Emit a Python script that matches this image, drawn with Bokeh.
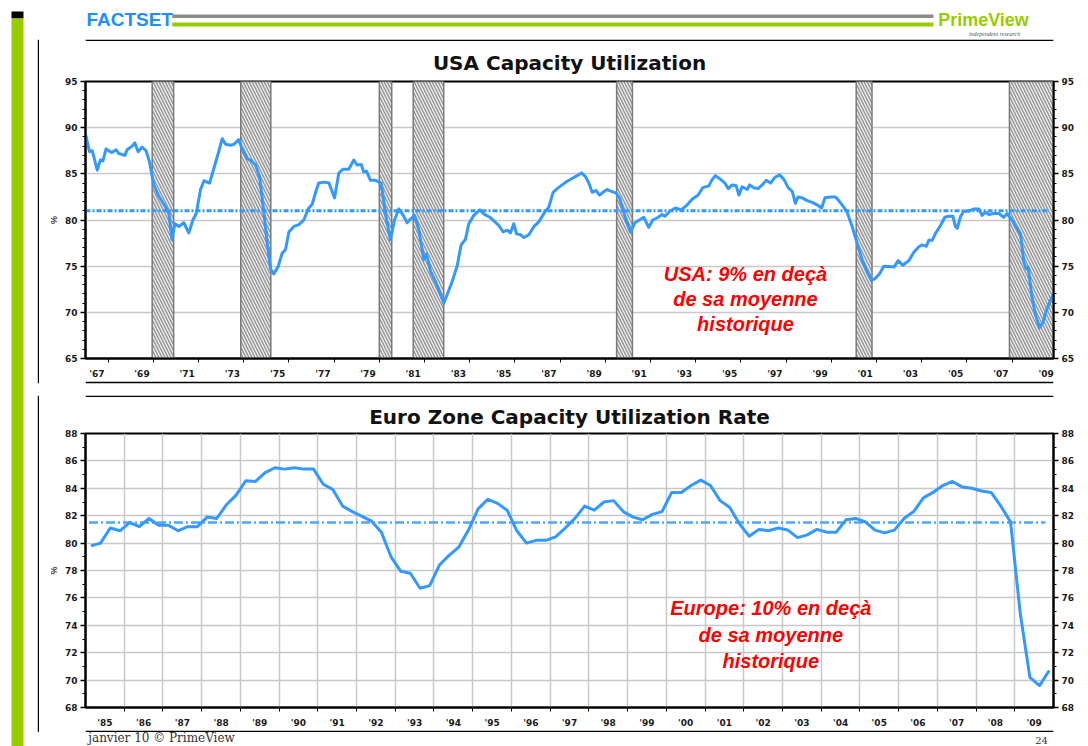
import numpy as np
from bokeh.plotting import figure
from bokeh.models import Range1d, FixedTicker, LinearAxis, Label
from bokeh.layouts import row, column
from bokeh.embed import file_html
from bokeh.resources import INLINE

# ---------------- DATA ----------------
usa_years = [
    1967.00, 1967.18, 1967.30, 1967.52, 1967.66, 1967.77, 1967.91, 1968.15, 1968.36, 1968.47,
    1968.74, 1968.84, 1969.06, 1969.18, 1969.33, 1969.50, 1969.68, 1969.83, 1970.02, 1970.24,
    1970.54, 1970.69, 1970.83, 1970.95, 1971.13, 1971.35, 1971.57, 1971.75, 1971.90, 1972.09,
    1972.24, 1972.49, 1972.68, 1972.87, 1973.05, 1973.20, 1973.42, 1973.56, 1973.78, 1973.93,
    1974.15, 1974.35, 1974.52, 1974.70, 1974.85, 1975.04, 1975.19, 1975.33, 1975.53, 1975.70,
    1975.85, 1976.00, 1976.22, 1976.44, 1976.66, 1976.85, 1977.03, 1977.18, 1977.32, 1977.55,
    1977.77, 1978.02, 1978.21, 1978.40, 1978.65, 1978.87, 1979.02, 1979.20, 1979.31, 1979.43,
    1979.61, 1979.83, 1980.08, 1980.27, 1980.49, 1980.67, 1980.86, 1981.06, 1981.23, 1981.38,
    1981.56, 1981.75, 1981.97, 1982.09, 1982.26, 1982.49, 1982.71, 1982.85, 1983.00, 1983.22,
    1983.44, 1983.62, 1983.81, 1983.96, 1984.18, 1984.45, 1984.65, 1984.89, 1985.07, 1985.29,
    1985.48, 1985.66, 1985.80, 1985.95, 1986.07, 1986.25, 1986.40, 1986.62, 1986.84, 1987.06,
    1987.28, 1987.50, 1987.69, 1987.87, 1988.09, 1988.31, 1988.53, 1988.75, 1988.95, 1989.12,
    1989.27, 1989.42, 1989.59, 1989.74, 1989.89, 1990.08, 1990.27, 1990.48, 1990.63, 1990.82,
    1990.97, 1991.11, 1991.31, 1991.51, 1991.70, 1991.92, 1992.10, 1992.34, 1992.51, 1992.63,
    1992.88, 1993.10, 1993.37, 1993.62, 1993.84, 1994.11, 1994.31, 1994.58, 1994.73, 1994.87,
    1995.10, 1995.29, 1995.44, 1995.61, 1995.79, 1995.91, 1996.05, 1996.28, 1996.38, 1996.57,
    1996.76, 1996.94, 1997.12, 1997.31, 1997.50, 1997.71, 1997.90, 1998.09, 1998.27, 1998.41,
    1998.53, 1998.71, 1998.93, 1999.15, 1999.37, 1999.57, 1999.72, 1999.96, 2000.18, 2000.33,
    2000.55, 2000.70, 2000.92, 2001.14, 2001.36, 2001.59, 2001.78, 2001.95, 2002.13, 2002.32,
    2002.54, 2002.77, 2002.96, 2003.16, 2003.43, 2003.65, 2003.87, 2004.02, 2004.20, 2004.31,
    2004.46, 2004.61, 2004.83, 2005.02, 2005.20, 2005.38, 2005.49, 2005.57, 2005.72, 2005.86,
    2006.08, 2006.31, 2006.53, 2006.67, 2006.82, 2006.97, 2007.19, 2007.41, 2007.63, 2007.78,
    2008.00, 2008.15, 2008.37, 2008.52, 2008.62, 2008.71, 2008.86, 2009.03, 2009.21, 2009.36,
    2009.55, 2009.70, 2009.82,
]
usa_values = [
    89.3, 87.4, 87.5, 85.4, 86.5, 86.4, 87.7, 87.3, 87.6, 87.2,
    87.0, 87.6, 88.0, 88.35, 87.4, 87.9, 87.5, 86.3, 83.8, 82.6,
    81.4, 80.7, 77.85, 79.6, 79.3, 79.7, 78.6, 80.0, 80.7, 83.3,
    84.25, 84.0, 85.6, 87.2, 88.8, 88.2, 88.1, 88.2, 88.7, 87.7,
    86.65, 86.4, 85.95, 84.7, 81.7, 77.5, 74.7, 74.15, 75.0, 76.4,
    76.8, 78.7, 79.3, 79.5, 80.0, 81.2, 81.7, 83.0, 84.0, 84.1,
    84.0, 82.4, 85.1, 85.5, 85.5, 86.5, 85.95, 86.0, 85.2, 85.3,
    84.3, 84.3, 84.0, 80.7, 77.85, 80.0, 81.2, 80.5, 79.7, 80.1,
    80.5, 78.9, 75.7, 76.3, 74.5, 73.3, 71.9, 71.0, 71.9, 73.3,
    75.0, 77.3, 77.9, 79.6, 80.5, 81.1, 80.6, 80.3, 79.9, 79.4,
    78.7, 78.9, 78.6, 79.6, 78.5, 78.4, 78.1, 78.4, 79.3, 79.8,
    80.7, 81.4, 83.0, 83.4, 83.8, 84.2, 84.5, 84.8, 85.1, 84.7,
    84.0, 83.0, 83.2, 82.7, 83.0, 83.3, 83.1, 82.9, 82.4, 80.8,
    79.6, 78.7, 79.7, 80.0, 80.3, 79.2, 80.0, 80.3, 80.6, 80.4,
    81.0, 81.3, 81.1, 81.65, 82.25, 82.7, 83.5, 83.7, 84.4, 84.8,
    84.4, 84.0, 83.4, 83.8, 83.7, 82.7, 83.6, 83.3, 83.8, 83.5,
    83.4, 83.8, 84.3, 84.0, 84.6, 84.9, 84.4, 83.5, 83.1, 81.8,
    82.5, 82.4, 82.1, 81.9, 81.65, 81.3, 82.4, 82.5, 82.5, 82.1,
    81.4, 80.85, 79.3, 77.5, 75.7, 74.3, 73.45, 73.7, 74.15, 75.0,
    74.96, 74.9, 75.6, 75.1, 75.6, 76.5, 77.1, 77.3, 77.15, 77.8,
    77.8, 78.55, 79.4, 80.3, 80.4, 80.4, 79.3, 79.1, 80.4, 80.95,
    80.95, 81.2, 81.2, 80.5, 80.85, 80.6, 80.7, 80.7, 80.3, 80.7,
    79.95, 79.3, 78.5, 75.4, 74.7, 74.9, 71.9, 69.75, 68.35, 68.9,
    70.45, 71.3, 72.0,
]
usa_mean = 81.0
usa_rec_start = [1969.95, 1973.87, 1980.00, 1981.50, 1990.50, 2001.10, 2007.88]
usa_rec_end = [1970.90, 1975.20, 1980.55, 1982.85, 1991.20, 2001.80, 2009.83]
usa_label_years = list(range(1967, 2010, 2))
usa_y_ticks = [65, 70, 75, 80, 85, 90, 95]

euro_first_year = 1985
euro_values = [
    79.8, 80.0, 81.1, 80.9,   # 1985
    81.5, 81.2, 81.8, 81.3,   # 1986
    81.3, 80.9, 81.2, 81.2,   # 1987
    81.9, 81.8, 82.8, 83.5,   # 1988
    84.55, 84.5, 85.15, 85.5, # 1989
    85.4, 85.5, 85.4, 85.4,   # 1990
    84.3, 83.9, 82.7, 82.3,   # 1991
    81.95, 81.6, 80.8, 79.0,  # 1992
    77.95, 77.8, 76.7, 76.9,  # 1993
    78.4, 79.1, 79.7, 80.95,  # 1994
    82.5, 83.2, 82.9, 82.4,   # 1995
    80.9, 80.0, 80.2, 80.2,   # 1996
    80.45, 81.1, 81.8, 82.7,  # 1997
    82.4, 83.0, 83.1, 82.3,   # 1998
    81.9, 81.7, 82.1, 82.3,   # 1999
    83.7, 83.7, 84.2, 84.6,   # 2000
    84.2, 83.1, 82.6, 81.4,   # 2001
    80.5, 81.0, 80.9, 81.1,   # 2002
    80.95, 80.4, 80.6, 81.0,  # 2003
    80.8, 80.8, 81.7, 81.8,   # 2004
    81.55, 80.95, 80.75, 80.95,  # 2005
    81.8, 82.3, 83.3, 83.7,   # 2006
    84.2, 84.5, 84.1, 84.0,   # 2007
    83.8, 83.7, 82.7, 81.55,  # 2008
    74.9, 70.2, 69.6, 70.7,   # 2009
]
euro_mean = 81.5
euro_label_years = list(range(1985, 2010))
euro_y_ticks = [68, 70, 72, 74, 76, 78, 80, 82, 84, 86, 88]

# ---------------- STYLE ----------------
BLUE = "#3399ff"
GREEN = "#99cc00"
GRID = "#c8c8c8"
PAGE_W, PAGE_H = 1088, 746
LEFT_W = 39
W = PAGE_W - LEFT_W
TICK_FONT = "DejaVu Sans"


def style_axis(ax, ticker):
    ax.ticker = ticker
    ax.axis_line_color = "black"
    ax.axis_line_width = 2
    ax.major_tick_line_color = "black"
    ax.major_tick_line_width = 1.5
    ax.major_tick_out = 5
    ax.major_tick_in = 0
    ax.minor_tick_line_color = "black"
    ax.minor_tick_line_width = 1
    ax.minor_tick_out = 3
    ax.minor_tick_in = 0
    ax.major_label_standoff = 3
    ax.major_label_text_font = TICK_FONT
    ax.major_label_text_font_style = "bold"
    ax.major_label_text_font_size = "9px"
    ax.major_label_text_color = "#1a1a1a"


def style_xaxis(ax, label_years, boundaries):
    ax.ticker = FixedTicker(ticks=[y + 0.5 for y in label_years], minor_ticks=boundaries)
    ax.major_label_overrides = {y + 0.5: "'" + str(y)[2:] for y in label_years}
    ax.axis_line_color = "black"
    ax.axis_line_width = 2
    ax.major_tick_line_color = None
    ax.major_tick_out = 0
    ax.major_tick_in = 0
    ax.minor_tick_line_color = "black"
    ax.minor_tick_line_width = 1
    ax.minor_tick_out = 4
    ax.minor_tick_in = 0
    ax.major_label_standoff = 6
    ax.major_label_text_font = TICK_FONT
    ax.major_label_text_font_style = "bold"
    ax.major_label_text_font_size = "9px"
    ax.major_label_text_color = "#1a1a1a"


def chart(title, height, xr, yr, top, bottom, standoff):
    p = figure(width=W, height=height, x_range=Range1d(*xr), y_range=Range1d(*yr),
               title=title, toolbar_location=None, tools="", output_backend="svg",
               min_border_left=46, min_border_right=35,
               min_border_top=top, min_border_bottom=bottom)
    p.title.align = "center"
    p.title.text_font = "DejaVu Sans"
    p.title.text_font_style = "bold"
    p.title.text_font_size = "20px"
    p.title.text_color = "#111111"
    p.title.standoff = standoff
    p.outline_line_color = "black"
    p.outline_line_width = 2
    p.outline_line_alpha = 1
    p.background_fill_color = "white"
    p.border_fill_color = "white"
    return p


def red_note(p, x, ys, lines):
    for y, t in zip(ys, lines):
        p.add_layout(Label(x=x, y=y, text=t, text_align="center", text_baseline="middle",
                           text_color="#ff0000", text_font="Liberation Sans",
                           text_font_style="bold italic", text_font_size="20px"))


# ---------------- USA chart ----------------
p1 = chart("USA Capacity Utilization", 340, (1967, 2009.83),
           (usa_y_ticks[0], usa_y_ticks[-1]), 40, 16, 14)
style_axis(p1.yaxis[0], FixedTicker(ticks=usa_y_ticks,
                                    minor_ticks=list(range(usa_y_ticks[0], usa_y_ticks[-1] + 1))))
p1.yaxis[0].axis_label = "%"
p1.yaxis[0].axis_label_text_font_size = "9px"
p1.yaxis[0].axis_label_text_font_style = "bold"
p1.yaxis[0].axis_label_standoff = 3
r1 = LinearAxis()
style_axis(r1, FixedTicker(ticks=usa_y_ticks,
                           minor_ticks=list(range(usa_y_ticks[0], usa_y_ticks[-1] + 1))))
p1.add_layout(r1, "right")
style_xaxis(p1.xaxis[0], usa_label_years, list(range(1968, 2010, 2)))
p1.xgrid.visible = False
p1.ygrid.ticker = FixedTicker(ticks=usa_y_ticks[1:-1])
p1.ygrid.grid_line_color = GRID
p1.ygrid.grid_line_width = 1.5

p1.quad(left=usa_rec_start, right=usa_rec_end, bottom=usa_y_ticks[0], top=usa_y_ticks[-1],
        fill_color="#959595", line_color="#7a7a7a", line_width=1.5,
        hatch_pattern="left_diagonal_line", hatch_color="#f0f0f0", hatch_scale=6,
        hatch_weight=1.3)
p1.line([usa_years[0], 2009.6], [usa_mean, usa_mean], line_color=BLUE, line_width=3,
        line_dash="5 2 2 2")
p1.line(usa_years, usa_values, line_color=BLUE, line_width=3, line_join="round")
red_note(p1, 1996.2, [74.2, 71.45, 68.7], ["USA: 9% en deçà", "de sa moyenne", "historique"])

# ---------------- Euro chart ----------------
euro_x = [euro_first_year + 0.14 + 0.25 * i for i in range(len(euro_values))]
p2 = chart("Euro Zone Capacity Utilization Rate", 333, (1985, 2010),
           (euro_y_ticks[0], euro_y_ticks[-1]), 36, 22, 10)
style_axis(p2.yaxis[0], FixedTicker(ticks=euro_y_ticks,
                                    minor_ticks=list(range(euro_y_ticks[0], euro_y_ticks[-1] + 1))))
p2.yaxis[0].axis_label = "%"
p2.yaxis[0].axis_label_text_font_size = "9px"
p2.yaxis[0].axis_label_text_font_style = "bold"
p2.yaxis[0].axis_label_standoff = 3
r2 = LinearAxis()
style_axis(r2, FixedTicker(ticks=euro_y_ticks,
                           minor_ticks=list(range(euro_y_ticks[0], euro_y_ticks[-1] + 1))))
p2.add_layout(r2, "right")
style_xaxis(p2.xaxis[0], euro_label_years, euro_label_years[1:])
p2.xgrid.ticker = FixedTicker(ticks=euro_label_years[1:])
p2.ygrid.ticker = FixedTicker(ticks=euro_y_ticks)
for g in (p2.xgrid[0], p2.ygrid[0]):
    g.grid_line_color = GRID
    g.grid_line_width = 1.5

p2.line([euro_x[0] - 0.05, euro_x[-1] - 0.1], [euro_mean, euro_mean], line_color="#4da6ff",
        line_width=2.5, line_dash="9 3 2 3")
p2.line(euro_x, euro_values, line_color=BLUE, line_width=3, line_join="round")
red_note(p2, 2002.7, [75.25, 73.3, 71.4], ["Europe: 10% en deçà", "de sa moyenne", "historique"])


# ---------------- decorations ----------------
def deco(width, height, xr, yr):
    p = figure(width=width, height=height, x_range=Range1d(*xr), y_range=Range1d(*yr),
               title=None, toolbar_location=None, tools="", output_backend="svg",
               min_border=0, x_axis_location=None, y_axis_location=None)
    p.grid.visible = False
    p.outline_line_color = None
    p.background_fill_color = "white"
    p.border_fill_color = "white"
    return p


header = deco(W, 41, (LEFT_W, PAGE_W), (41, 0))
header.add_layout(Label(x=40, y=29, text="FACTSET", text_color="#1e8fff",
                        text_font="Liberation Sans", text_font_style="bold",
                        text_font_size="19px", text_baseline="bottom"))
header.quad(left=[133], right=[958], top=[14], bottom=[17.5], fill_color="#8c8c8c",
            line_color=None)
header.quad(left=[133], right=[958], top=[22], bottom=[26], fill_color=GREEN, line_color=None)
header.add_layout(Label(x=963, y=29, text="PrimeView", text_color=GREEN,
                        text_font="Liberation Sans", text_font_style="bold",
                        text_font_size="18px", text_baseline="bottom"))
header.add_layout(Label(x=1052, y=36, text="independent research", text_color="#555555",
                        text_font="Liberation Serif", text_font_style="italic",
                        text_font_size="6px", text_baseline="bottom", text_align="right"))
header.quad(left=[LEFT_W], right=[PAGE_W], top=[39.3], bottom=[41], fill_color="black",
            line_color=None)

sep = deco(W, 16, (LEFT_W, PAGE_W), (397, 381))
sep.quad(left=[LEFT_W, LEFT_W], right=[PAGE_W, PAGE_W], top=[381, 395.3], bottom=[382.7, 397],
         fill_color="black", line_color=None)

footer = deco(W, 16, (LEFT_W, PAGE_W), (746, 730))
footer.quad(left=[LEFT_W], right=[PAGE_W], top=[730], bottom=[731.6], fill_color="black",
            line_color=None)
footer.add_layout(Label(x=42, y=744, text="janvier 10 © PrimeView", text_color="#333333",
                        text_font="DejaVu Serif", text_font_size="12px",
                        text_baseline="bottom"))
footer.add_layout(Label(x=1082, y=743, text="24", text_color="#333333",
                        text_font="DejaVu Serif", text_font_size="10px",
                        text_baseline="bottom", text_align="right"))

left = deco(LEFT_W, PAGE_H, (0, LEFT_W), (PAGE_H, 0))
left.quad(left=[11], right=[23], top=[11], bottom=[18], fill_color="black", line_color=None)
left.quad(left=[11], right=[23], top=[18], bottom=[PAGE_H], fill_color=GREEN, line_color=None)
left.quad(left=[37.3, 37.3], right=[LEFT_W, LEFT_W], top=[39.3, 395.3], bottom=[382.7, 731.6],
          fill_color="black", line_color=None)

layout = row(left, column(header, p1, sep, p2, footer, spacing=0), spacing=0)

open("out.html", "w").write(file_html(layout, INLINE))
